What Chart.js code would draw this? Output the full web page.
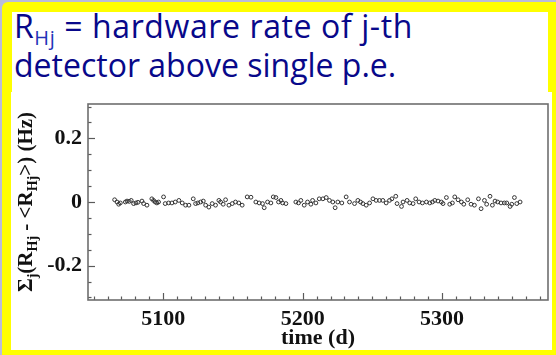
<!DOCTYPE html>
<html>
<head>
<meta charset="utf-8">
<script src="https://cdn.jsdelivr.net/npm/chart.js@4/dist/chart.umd.min.js"></script>
<style>
  html, body { margin: 0; padding: 0; }
  body { width: 556px; height: 355px; position: relative; overflow: hidden; background: #b9bcd9; }
  #frame { position: absolute; left: 2px; top: 2px; right: 0; bottom: 0; background: #ffff00; border-top-left-radius: 6px; }
  #head { position: absolute; left: 12px; top: 12px; width: 536px; height: 80px; background: #ffffff; }
  #plotbg { position: absolute; left: 11px; top: 92px; width: 541px; height: 258px; background: #ffffff; }
  #title { position: absolute; left: 2px; top: -6px; margin: 0; font-family: "Open Sans", "DejaVu Sans", sans-serif;
           font-size: 32px; line-height: 39px; color: #08088a; font-weight: 400; white-space: nowrap; }
  #title .l1 { letter-spacing: 0.6px; }
  #title sub { font-size: 20px; vertical-align: -7px; line-height: 0; color: #2233b8; }
  canvas { position: absolute; left: 0; top: 0; }
</style>
</head>
<body>
<div id="frame"></div>
<div id="head">
  <div id="title"><span class="l1">R<sub>Hj</sub> = hardware rate of j-th</span><br>detector above single p.e.</div>
</div>
<div id="plotbg"></div>
<canvas id="c" width="556" height="355"></canvas>
<script>
// Daily summed deviation of the hardware rates from their means
const days = [
  5065.1, 5066.8, 5068.0, 5069.2, 5072.8, 5074.0, 5075.6, 5077.0, 5078.7, 5080.4, 5081.8, 5084.7,
  5085.9, 5088.3, 5091.8, 5093.0, 5094.2, 5095.4, 5096.6, 5100.2, 5101.4, 5103.8, 5106.2, 5108.6,
  5111.2, 5113.6, 5116.0, 5118.4, 5121.5, 5123.2, 5124.8, 5126.8, 5128.7, 5130.4, 5132.7, 5135.1,
  5137.5, 5139.9, 5141.1, 5143.0, 5144.7, 5147.1, 5149.5, 5151.8, 5154.2, 5156.6, 5160.2,
  5162.9, 5166.4, 5168.8, 5171.2, 5172.4, 5174.8, 5177.2, 5178.9, 5180.8, 5182.7, 5184.4, 5185.6,
  5188.0, 5195.1, 5197.0, 5198.7, 5201.1, 5203.5, 5205.9, 5207.1, 5209.5, 5211.9,
  5214.5, 5216.9, 5219.2, 5221.6, 5223.3, 5225.2, 5228.1, 5231.2, 5233.6, 5237.2, 5239.6, 5241.5,
  5243.2, 5245.6, 5248.0, 5250.4, 5252.7, 5255.1, 5257.5, 5259.9, 5262.3, 5264.0,
  5266.8, 5267.7, 5270.9, 5272.0, 5274.9, 5276.8, 5279.2, 5281.1, 5283.5, 5285.9, 5288.8, 5291.2,
  5293.1, 5294.8, 5297.1, 5299.5, 5300.7, 5303.1, 5305.5, 5307.4, 5309.1, 5311.5, 5313.9, 5315.6,
  5318.4, 5320.8, 5323.2, 5326.1, 5328.0, 5330.4, 5332.0, 5334.4, 5336.1, 5338.0, 5339.9, 5342.3,
  5344.7, 5346.4, 5348.8, 5350.0, 5351.9, 5353.6, 5356.0
];
const rateDeviation = [
  0.007, 0.000, -0.007, -0.003, 0.000, 0.003, 0.002, 0.005, -0.005, -0.003, -0.001, 0.003,
  -0.005, -0.010, 0.010, 0.005, 0.000, -0.003, 0.000, 0.016, -0.005, -0.003, -0.003, 0.000,
  0.005, -0.003, -0.010, -0.010, 0.010, -0.005, -0.003, 0.000, 0.003, -0.010, -0.016, -0.005,
  -0.010, 0.005, 0.000, -0.007, 0.007, -0.010, -0.005, 0.000, -0.003, -0.010, 0.016,
  0.015, 0.000, -0.003, -0.005, -0.018, 0.000, -0.003, 0.016, 0.014, 0.000, 0.005, -0.003,
  -0.005, 0.000, -0.003, 0.005, -0.010, 0.000, -0.007, 0.005, -0.003, 0.010,
  0.010, 0.014, 0.005, 0.000, -0.018, 0.000, -0.003, 0.016, 0.000, -0.005, 0.005, 0.000,
  -0.005, -0.010, -0.003, 0.010, 0.005, 0.005, 0.005, -0.003, 0.005, 0.010,
  0.018, -0.005, -0.014, 0.000, 0.005, -0.003, -0.005, 0.010, 0.000, -0.003, 0.000, -0.003,
  0.000, 0.005, 0.003, 0.000, -0.005, 0.014, -0.007, -0.003, 0.016, 0.007, 0.000, -0.007,
  0.007, -0.007, -0.010, 0.010, -0.021, 0.005, -0.007, 0.018, -0.010, 0.003, 0.000, -0.003,
  -0.003, -0.003, -0.014, -0.007, 0.014, -0.005, 0.000
];

// Labelled tick values on each axis
const xLabelTicks = [5100, 5200, 5300];
const yLabelTicks = [-0.2, 0, 0.2];
// Minor tick spacing on each axis
const xMinorStep = 10;
const yMinorStep = 0.05;

const axisFont = { family: '"Liberation Serif", "Times New Roman", serif', size: 22, weight: 'bold' };

function isLabelled(list, v) {
  return list.some(t => Math.abs(t - v) < 1e-6);
}

// Ticks on every multiple of the step inside the axis range
function stepTicks(scale, step) {
  const out = [];
  const first = Math.ceil(scale.min / step - 1e-9);
  const last = Math.floor(scale.max / step + 1e-9);
  for (let k = first; k <= last; k++) {
    out.push({ value: Math.round(k * step * 1e6) / 1e6 });
  }
  scale.ticks = out;
}

// ROOT-style frame with inward ticks, plus the rotated y-axis title
const frameTicks = {
  id: 'frameTicks',
  afterDraw(chart) {
    const { ctx, chartArea: a, scales: { x, y } } = chart;
    ctx.save();
    ctx.strokeStyle = '#5a5a5a';
    ctx.lineWidth = 1.2;
    x.ticks.forEach(t => {
      const px = Math.round(x.getPixelForValue(t.value)) + 0.5;
      const len = isLabelled(xLabelTicks, t.value) ? 7 : 3.5;
      ctx.beginPath(); ctx.moveTo(px, a.bottom); ctx.lineTo(px, a.bottom - len); ctx.stroke();
    });
    y.ticks.forEach(t => {
      const py = Math.round(y.getPixelForValue(t.value)) + 0.5;
      const len = isLabelled(yLabelTicks, t.value) ? 7 : 3.5;
      ctx.beginPath(); ctx.moveTo(a.left, py); ctx.lineTo(a.left + len, py); ctx.stroke();
    });
    ctx.strokeStyle = '#6e6e6e';
    ctx.lineWidth = 1.6;
    ctx.strokeRect(a.left, a.top, a.right - a.left, a.bottom - a.top);

    // y title: Σj(RHj - <RHj>) (Hz)
    const parts = [
      ['\u03A3', false], ['j', true], ['(R', false], ['Hj', true], [' - <R', false],
      ['Hj', true], ['>) (Hz)', false]
    ];
    const mainF = 'bold 21px "Liberation Serif", serif';
    const subF = 'bold 14px "Liberation Serif", serif';
    let total = 0;
    parts.forEach(([s, sub]) => { ctx.font = sub ? subF : mainF; total += ctx.measureText(s).width; });
    ctx.translate(32, (a.top + a.bottom) / 2);
    ctx.rotate(-Math.PI / 2);
    ctx.fillStyle = '#111';
    ctx.textBaseline = 'alphabetic';
    let cx = -total / 2;
    parts.forEach(([s, sub]) => {
      ctx.font = sub ? subF : mainF;
      ctx.fillText(s, cx, sub ? 5 : 0);
      cx += ctx.measureText(s).width;
    });
    ctx.restore();
  }
};

new Chart(document.getElementById('c'), {
  type: 'scatter',
  data: {
    datasets: [{
      data: days.map((d, i) => ({ x: d, y: rateDeviation[i] })),
      pointStyle: 'circle',
      pointRadius: 1.9,
      pointBorderWidth: 1,
      pointBorderColor: '#333333',
      pointBackgroundColor: 'rgba(255,255,255,0)'
    }]
  },
  options: {
    responsive: false,
    animation: false,
    events: [],
    layout: { padding: { left: 0, right: 8, top: 104, bottom: 0 } },
    plugins: { legend: { display: false }, tooltip: { enabled: false } },
    scales: {
      x: {
        type: 'linear', min: 5046, max: 5376,
        grid: { display: false, drawTicks: false },
        border: { display: false },
        afterBuildTicks: s => stepTicks(s, xMinorStep),
        ticks: {
          autoSkip: false, maxRotation: 0,
          padding: 6, color: '#111', font: axisFont,
          callback: v => isLabelled(xLabelTicks, v) ? String(Math.round(v)) : ''
        },
        title: { display: true, text: 'time (d)', color: '#111', font: axisFont, padding: { top: -7, bottom: 3 } },
        afterFit: s => { s.height = 55; }
      },
      y: {
        type: 'linear', min: -0.308, max: 0.308,
        grid: { display: false, drawTicks: false },
        border: { display: false },
        afterBuildTicks: s => stepTicks(s, yMinorStep),
        ticks: {
          autoSkip: false,
          padding: 6, color: '#111', font: axisFont,
          callback: v => isLabelled(yLabelTicks, v) ? (Math.abs(v) < 1e-9 ? '0' : v.toFixed(1)) : ''
        },
        afterFit: s => { s.width = 88; }
      }
    }
  },
  plugins: [frameTicks]
});
</script>
</body>
</html>
